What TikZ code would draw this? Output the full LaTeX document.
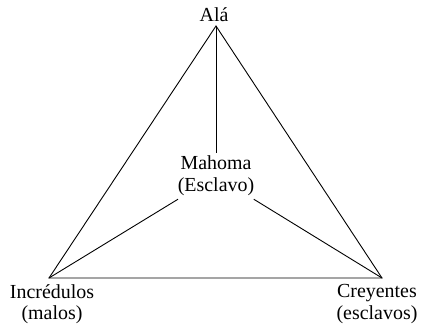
\documentclass[tikz,border=0pt]{standalone}
\usepackage{fontspec}
\setmainfont{Liberation Serif}
\begin{document}
\begin{tikzpicture}[x=1bp,y=1bp,
  lbl/.style={font=\fontsize{20}{22}\selectfont, align=center, inner sep=2bp},
  edge/.style={line width=0.9bp, black}]
\useasboundingbox (0,0) rectangle (422,-329);
\coordinate (A) at (216,-26);
\coordinate (L) at (49,-278);
\coordinate (R) at (382,-278);
\node[lbl, anchor=south] (tA) at (214,-24) {Alá};
\node[lbl, anchor=north] (tL) at (52,-282) {Incrédulos\\(malos)};
\node[lbl, anchor=north] (tR) at (377,-282) {Creyentes\\(esclavos)};
\node[lbl, inner sep=3bp] (M) at (216,-176) {Mahoma\\(Esclavo)};
\draw[edge] (A) -- (L) -- (R) -- cycle;
\draw[edge] (A) -- (M.north);
\draw[edge] (L) -- (M);
\draw[edge] (R) -- (M);
\end{tikzpicture}
\end{document}
